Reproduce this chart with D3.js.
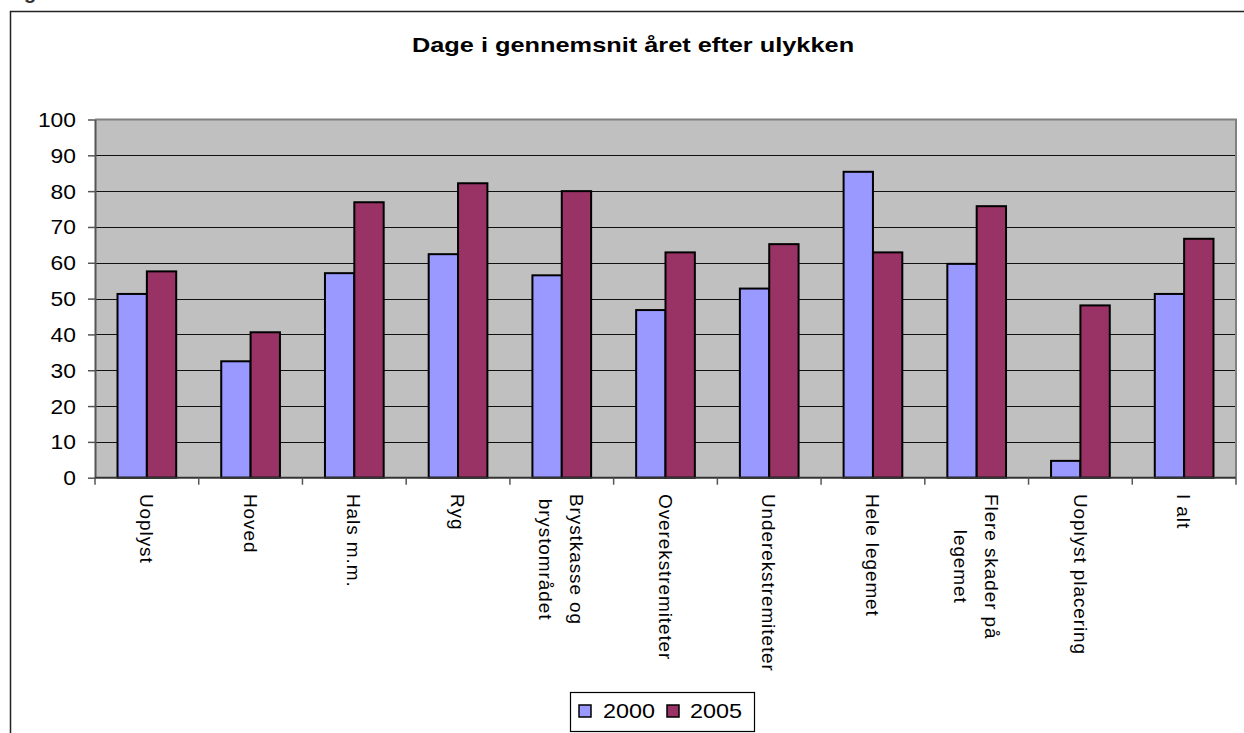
<!DOCTYPE html>
<html>
<head>
<meta charset="utf-8">
<script src="https://cdn.jsdelivr.net/npm/d3@7"></script>
<style>
  html, body { margin: 0; padding: 0; background: #fff; }
  svg { display: block; font-family: "Liberation Sans", Arial, sans-serif; }
</style>
</head>
<body>
<svg id="chart" width="1244" height="733"></svg>
<script>
// Data
const categories = [
  "Uoplyst", "Hoved", "Hals m.m.", "Ryg", "Brystkasse og\nbrystområdet",
  "Overekstremiteter", "Underekstremiteter", "Hele legemet",
  "Flere skader på\nlegemet", "Uoplyst placering", "I alt"
];
const seriesNames = ["2000", "2005"];
const values2000 = [51.3, 32.5, 57.1, 62.4, 56.5, 46.8, 52.8, 85.4, 59.7, 4.7, 51.3];
const values2005 = [57.6, 40.6, 76.9, 82.2, 80.0, 62.9, 65.2, 62.9, 75.8, 48.1, 66.7];
const yTicks = [0, 10, 20, 30, 40, 50, 60, 70, 80, 90, 100];
const colors = ["#9999FF", "#993366"];

// the source picture is stretched sideways, so horizontal text is widened too
const stretch = 1.17;

const svg = d3.select("#chart");

// outer chart frame (runs off the right and bottom of the picture)
svg.append("rect")
  .attr("x", 10.5).attr("y", 11.5)
  .attr("width", 1300).attr("height", 800)
  .attr("fill", "#fff").attr("stroke", "#222").attr("stroke-width", 1.5);

// cut-off text fragment above the frame
svg.append("text")
  .attr("x", 24).attr("y", -1)
  .style("font-size", "20px").style("font-weight", "bold")
  .attr("fill", "#333")
  .text("g");

// plot area
const plot = { left: 95, right: 1236, top: 119.5, bottom: 477.7 };

const x = d3.scaleBand()
  .domain(categories)
  .range([plot.left, plot.right])
  .padding(0);

const xInner = d3.scaleBand()
  .domain(seriesNames)
  .range([0, x.bandwidth()])
  .paddingInner(0)
  .paddingOuter(0.767);

const y = d3.scaleLinear()
  .domain([0, 100])
  .range([plot.bottom, plot.top]);

svg.append("rect")
  .attr("x", plot.left).attr("y", plot.top)
  .attr("width", plot.right - plot.left)
  .attr("height", plot.bottom - plot.top)
  .attr("fill", "#C0C0C0");

// gridlines
svg.append("g")
  .selectAll("line")
  .data(yTicks.filter(t => t > 0 && t < 100))
  .join("line")
  .attr("x1", plot.left).attr("x2", plot.right)
  .attr("y1", d => Math.round(y(d)) + 0.5)
  .attr("y2", d => Math.round(y(d)) + 0.5)
  .attr("stroke", "#111").attr("stroke-width", 1.2);

// plot border (top / right)
svg.append("path")
  .attr("d", `M${plot.left},${plot.top}H${plot.right}V${plot.bottom}`)
  .attr("fill", "none").attr("stroke", "#808080").attr("stroke-width", 2);

// y axis
const yAxis = svg.append("g")
  .attr("transform", `translate(${plot.left},0)`)
  .call(d3.axisLeft(y).tickValues(yTicks).tickSize(7).tickPadding(12).tickSizeOuter(0));
yAxis.select(".domain").attr("stroke", "#555").attr("stroke-width", 2);
yAxis.selectAll(".tick line").attr("stroke", "#555").attr("stroke-width", 1.5);
yAxis.selectAll(".tick text")
  .attr("x", 0)
  .attr("transform", `translate(-19,0) scale(${stretch},1)`)
  .attr("fill", "#000")
  .attr("dy", "0.36em")
  .style("font-size", "19.5px")
  .style("font-family", "'Liberation Sans', Arial, sans-serif");

// bars
const rows = categories.map((c, i) => ({ cat: c, vals: [values2000[i], values2005[i]] }));

svg.append("g")
  .selectAll("g")
  .data(rows)
  .join("g")
  .attr("transform", d => `translate(${x(d.cat)},0)`)
  .selectAll("rect")
  .data(d => d.vals.map((v, j) => ({ key: seriesNames[j], v: v, j: j })))
  .join("rect")
  .attr("x", d => xInner(d.key))
  .attr("y", d => y(d.v))
  .attr("width", xInner.bandwidth())
  .attr("height", d => y(0) - y(d.v))
  .attr("fill", d => colors[d.j])
  .attr("stroke", "#000")
  .attr("stroke-width", 2);

// x axis line and tick marks at category boundaries
svg.append("line")
  .attr("x1", plot.left).attr("x2", plot.right)
  .attr("y1", y(0)).attr("y2", y(0))
  .attr("stroke", "#333").attr("stroke-width", 2);

const boundaries = categories.map(c => x(c)).concat([x.range()[1]]);
svg.append("g")
  .selectAll("line")
  .data(boundaries)
  .join("line")
  .attr("x1", d => d).attr("x2", d => d)
  .attr("y1", y(0)).attr("y2", y(0) + 7)
  .attr("stroke", "#555").attr("stroke-width", 1.5);

// rotated category labels
const lineGap = 31;
const labelTop = 494;
const labels = svg.append("g")
  .selectAll("g")
  .data(categories)
  .join("g")
  .attr("transform", d => `translate(${x(d) + x.bandwidth() / 2},${labelTop}) rotate(90)`);

labels.each(function(d) {
  const g = d3.select(this);
  const lines = d.split("\n");
  const n = lines.length;
  const texts = lines.map((ln, i) => g.append("text")
    .attr("y", (i - (n - 1) / 2) * lineGap)
    .attr("dy", "0.36em")
    .style("font-size", "19px")
    .style("letter-spacing", "0.9px")
    .attr("fill", "#000")
    .text(ln));
  const lens = texts.map(t => t.node().getComputedTextLength());
  const maxLen = d3.max(lens);
  texts.forEach((t, i) => t.attr("x", (maxLen - lens[i]) / 2));
});

// title
svg.append("text")
  .attr("transform", `translate(633,52) scale(1.3,1)`)
  .attr("text-anchor", "middle")
  .style("font-size", "19.5px")
  .style("font-weight", "bold")
  .attr("fill", "#000")
  .text("Dage i gennemsnit året efter ulykken");

// legend
const legend = svg.append("g");
legend.append("rect")
  .attr("x", 570.5).attr("y", 692.5)
  .attr("width", 184).attr("height", 39)
  .attr("fill", "#fff").attr("stroke", "#000").attr("stroke-width", 1.2);

const legendItems = [
  { name: seriesNames[0], color: colors[0], sx: 579, tx: 603 },
  { name: seriesNames[1], color: colors[1], sx: 667, tx: 690 }
];
legendItems.forEach(it => {
  legend.append("rect")
    .attr("x", it.sx).attr("y", 705)
    .attr("width", 12).attr("height", 12)
    .attr("fill", it.color).attr("stroke", "#000").attr("stroke-width", 1.5);
  legend.append("text")
    .attr("transform", `translate(${it.tx},718) scale(${stretch},1)`)
    .style("font-size", "20px")
    .attr("fill", "#000")
    .text(it.name);
});
</script>
</body>
</html>
